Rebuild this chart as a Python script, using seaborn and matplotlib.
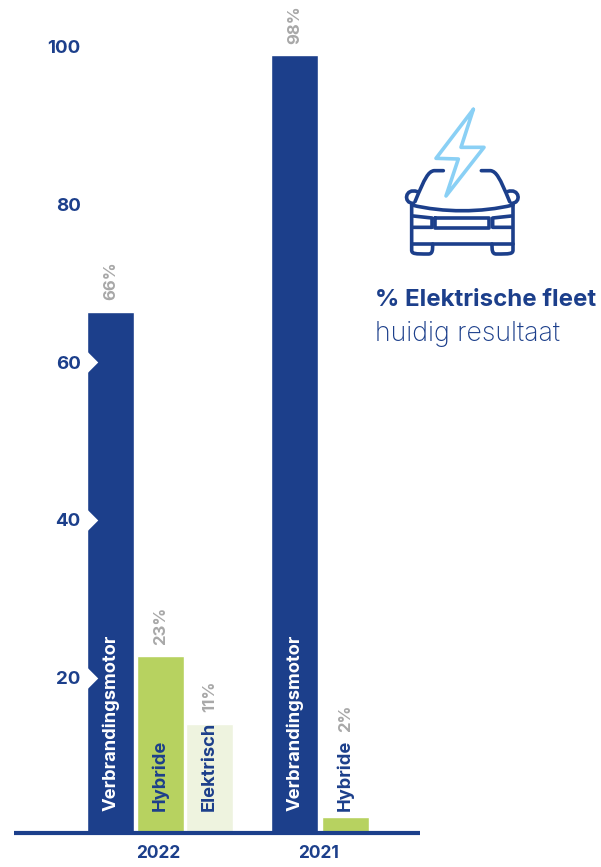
import matplotlib
matplotlib.use('Agg')
import matplotlib.pyplot as plt
import seaborn as sns
import pandas as pd
from matplotlib.path import Path
from matplotlib.patches import PathPatch

W, H = 601, 867
NAVY = '#1C3F8B'
GREEN = '#B7D260'
PALE = '#EEF3DF'
GREY = '#A8A8A8'
SKY = '#8AD0F5'

# bars
years = ['2022', '2022', '2022', '2021', '2021']
kinds = ['Verbrandingsmotor', 'Hybride', 'Elektrisch', 'Verbrandingsmotor', 'Hybride']
values = [66.4, 22.8, 14.1, 98.9, 2.4]
pct_labels = ['66%', '23%', '11%', '98%', '2%']
centers = [110.5, 160.5, 209.5, 294.5, 345.5]
yticks = [20, 40, 60, 80, 100]
kind_colors = {'Verbrandingsmotor': NAVY, 'Hybride': GREEN, 'Elektrisch': PALE}
label_colors = ['white', NAVY, NAVY, 'white', NAVY]
pct_offsets = [12, 11, 12, 11, 85]
year_centers = [158, 319]
year_labels = ['2022', '2021']

sns.set_theme(style='white')
plt.rcParams['font.family'] = ['Inter', 'DejaVu Sans']

df = pd.DataFrame({'x': centers, 'value': values, 'kind': kinds, 'year': years})

fig = plt.figure(figsize=(W / 100, H / 100), dpi=100)
ax = fig.add_axes([14 / W, (H - 833) / H, 406 / W, 833 / H])
sns.barplot(data=df, x='x', y='value', hue='kind', palette=kind_colors, native_scale=True,
            dodge=False, width=0.96, legend=False, ax=ax, saturation=1, errorbar=None)
ax.set_xlim(14, 420)
ax.set_ylim(0.32, 105.9)
ax.set_xlabel('')
ax.set_ylabel('')
sns.despine(ax=ax, left=True)
ax.spines['bottom'].set_color(NAVY)
ax.spines['bottom'].set_linewidth(3)
ax.spines['bottom'].set_capstyle('butt')

ax.set_yticks(yticks)
ax.tick_params(axis='y', length=0, pad=-48)
for t in ax.get_yticklabels():
    t.set_color(NAVY)
    t.set_fontweight('bold')
    t.set_fontsize(13.5)
    t.set_ha('right')
ax.set_xticks(year_centers)
ax.set_xticklabels(year_labels, color=NAVY, fontweight='bold', fontsize=12.5)
ax.tick_params(axis='x', length=0, pad=9)

# white notches by the ticks
notch = [(0, -1), (1, 0), (0, 1), (0, -1)]
ax.scatter([87.5] * len(yticks), yticks, marker=notch, s=240, color='white', linewidths=0, zorder=3)

for c, kind, col, val, pct, off in zip(centers, kinds, label_colors, values, pct_labels, pct_offsets):
    ax.text(c, 3.1, kind, rotation=90, ha='center', va='bottom', color=col, fontweight='bold', fontsize=13.2)
    ax.annotate(pct, (c, val), xytext=(0, off * 0.72), textcoords='offset points', rotation=90,
                ha='center', va='bottom', color=GREY, fontweight='bold', fontsize=12)

fig.text(375 / W, 1 - 306 / H, '% Elektrische fleet', color=NAVY, fontweight='bold', fontsize=17.3, va='baseline')
fig.text(375 / W, 1 - 341 / H, 'huidig resultaat', color=NAVY, fontweight='light', fontsize=19.3, va='baseline')

# icon, drawn in its own axes
icon = fig.add_axes([360 / W, 1 - 360 / H, 241 / W, 270 / H])
icon.set_xlim(0, 723)
icon.set_ylim(810, 0)
icon.axis('off')


def stroke(pts, codes=None, color=NAVY, lw=2.6):
    icon.add_patch(PathPatch(Path(pts, codes), fill=False, edgecolor=color, lw=lw,
                             capstyle='round', joinstyle='round'))


M, L, C = Path.MOVETO, Path.LINETO, Path.CURVE4
stroke([(340, 58), (228, 205), (295, 207), (258, 318), (372, 172), (303, 172), (340, 58)], color=SKY)
for s in (1, -1):
    mx = lambda x: x if s == 1 else 614 - x
    stroke([(mx(250), 242), (mx(222), 242), (mx(205), 245), (mx(195), 262), (mx(165), 335)],
           [M, L, C, C, L])
    stroke([(mx(172), 305), (mx(135), 292), (mx(128), 340), (mx(160), 340)], [M, C, C, C])
    stroke([(mx(155), 345), (mx(155), 480), (mx(155), 492), (mx(165), 492), (mx(205), 492),
            (mx(218), 492), (mx(218), 480), (mx(218), 462)], [M, L, C, C, L, C, C, C])
    stroke([(mx(160), 378), (mx(216), 384), (mx(216), 412), (mx(160), 412)])
stroke([(155, 345), (250, 368), (364, 368), (459, 345)], [M, C, C, C])
stroke([(155, 462), (459, 462)])
stroke([(226, 384), (388, 384), (388, 413), (226, 413), (226, 384)])

fig.savefig('out.png', dpi=100)
